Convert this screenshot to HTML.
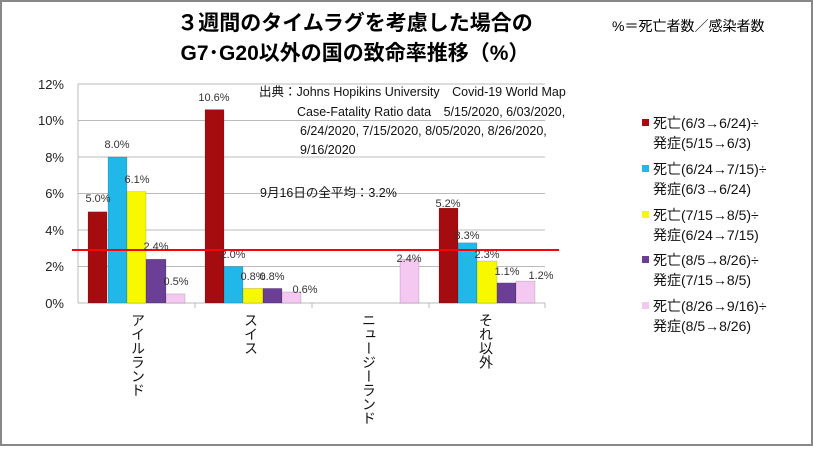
<!DOCTYPE html><html><head><meta charset="utf-8"><style>
body{margin:0;background:#fff}
svg text{font-family:"Liberation Sans","Noto Sans CJK JP",sans-serif}
</style></head><body>
<svg width="813" height="446" xmlns="http://www.w3.org/2000/svg">
<rect x="1" y="1" width="811" height="444" fill="#fff" stroke="#888" stroke-width="2"/>
<text x="355" y="30" font-size="21" font-weight="bold" text-anchor="middle">３週間のタイムラグを考慮した場合の</text>
<text x="355" y="60" font-size="21" font-weight="bold" text-anchor="middle">G7･G20以外の国の致命率推移（%）</text>
<text x="612" y="31" font-size="14">%＝死亡者数／感染者数</text>
<g stroke="#bbb" stroke-width="1">
<line x1="78" y1="84" x2="545" y2="84"/><line x1="78" y1="120.5" x2="545" y2="120.5"/>
<line x1="78" y1="157" x2="545" y2="157"/><line x1="78" y1="193.5" x2="545" y2="193.5"/>
<line x1="78" y1="230" x2="545" y2="230"/><line x1="78" y1="266.5" x2="545" y2="266.5"/>
<line x1="78" y1="303" x2="545" y2="303"/><line x1="78" y1="84" x2="78" y2="303"/>
<line x1="195" y1="303" x2="195" y2="308"/><line x1="312" y1="303" x2="312" y2="308"/><line x1="429" y1="303" x2="429" y2="308"/><line x1="545" y1="303" x2="545" y2="308"/>
</g>
<g font-size="13" text-anchor="end" fill="#222">
<text x="64" y="89">12%</text><text x="64" y="125">10%</text><text x="64" y="162">8%</text><text x="64" y="198">6%</text><text x="64" y="235">4%</text><text x="64" y="271">2%</text><text x="64" y="308">0%</text></g>
<g stroke="#0004" stroke-width="0.5">
<rect x="88" y="211.8" width="19" height="91.2" fill="#a50c10"/>
<rect x="108" y="157" width="19" height="146" fill="#1fb8e8"/>
<rect x="127" y="191.7" width="19" height="111.3" fill="#f8f800"/>
<rect x="146" y="259.2" width="20" height="43.8" fill="#6a3f95"/>
<rect x="166" y="293.9" width="19" height="9.1" fill="#f4c8f0"/>
<rect x="205" y="109.6" width="19" height="193.4" fill="#a50c10"/>
<rect x="224" y="266.5" width="19" height="36.5" fill="#1fb8e8"/>
<rect x="243" y="288.4" width="20" height="14.6" fill="#f8f800"/>
<rect x="263" y="288.4" width="19" height="14.6" fill="#6a3f95"/>
<rect x="282" y="292" width="19" height="11" fill="#f4c8f0"/>
<rect x="400" y="259.2" width="19" height="43.8" fill="#f4c8f0"/>
<rect x="439" y="208.1" width="19" height="94.9" fill="#a50c10"/>
<rect x="458" y="242.8" width="19" height="60.2" fill="#1fb8e8"/>
<rect x="477" y="261" width="20" height="42" fill="#f8f800"/>
<rect x="497" y="282.9" width="19" height="20.1" fill="#6a3f95"/>
<rect x="516" y="281.1" width="19" height="21.9" fill="#f4c8f0"/>
</g>
<line x1="72" y1="250" x2="559" y2="250" stroke="#f00" stroke-width="2"/>
<g font-size="11" fill="#333" text-anchor="middle">
<text x="98" y="202">5.0%</text><text x="117" y="148">8.0%</text><text x="137" y="183">6.1%</text><text x="156" y="250">2.4%</text><text x="176" y="285">0.5%</text>
<text x="214" y="101">10.6%</text><text x="233" y="258">2.0%</text><text x="253" y="280">0.8%</text><text x="272" y="280">0.8%</text><text x="305" y="293">0.6%</text>
<text x="409" y="262">2.4%</text>
<text x="448" y="207">5.2%</text><text x="467" y="239">3.3%</text><text x="487" y="258">2.3%</text><text x="507" y="275">1.1%</text><text x="541" y="279">1.2%</text></g>
<g font-size="12.5" fill="#111">
<text x="259" y="96">出典：Johns Hopikins University　Covid-19 World Map</text>
<text x="297" y="116">Case-Fatality Ratio data　5/15/2020, 6/03/2020,</text>
<text x="300" y="135">6/24/2020, 7/15/2020, 8/05/2020, 8/26/2020,</text>
<text x="300" y="154">9/16/2020</text>
<text x="260" y="197">9月16日の全平均：3.2%</text></g>
<g font-size="14" fill="#111" style="writing-mode:vertical-rl">
<text x="138" y="313">アイルランド</text><text x="251" y="313">スイス</text><text x="369" y="313">ニュージーランド</text><text x="486" y="313">それ以外</text></g>
<g font-size="14" fill="#111">
<rect x="642" y="119" width="7" height="7" fill="#a50c10"/><text x="653" y="128">死亡(6/3→6/24)÷</text><text x="653" y="148">発症(5/15→6/3)</text>
<rect x="642" y="165" width="7" height="7" fill="#1fb8e8"/><text x="653" y="174">死亡(6/24→7/15)÷</text><text x="653" y="194">発症(6/3→6/24)</text>
<rect x="642" y="211" width="7" height="7" fill="#f8f800"/><text x="653" y="220">死亡(7/15→8/5)÷</text><text x="653" y="240">発症(6/24→7/15)</text>
<rect x="642" y="256" width="7" height="7" fill="#6a3f95"/><text x="653" y="265">死亡(8/5→8/26)÷</text><text x="653" y="285">発症(7/15→8/5)</text>
<rect x="642" y="302" width="7" height="7" fill="#f4c8f0"/><text x="653" y="311">死亡(8/26→9/16)÷</text><text x="653" y="331">発症(8/5→8/26)</text></g>
</svg></body></html>
